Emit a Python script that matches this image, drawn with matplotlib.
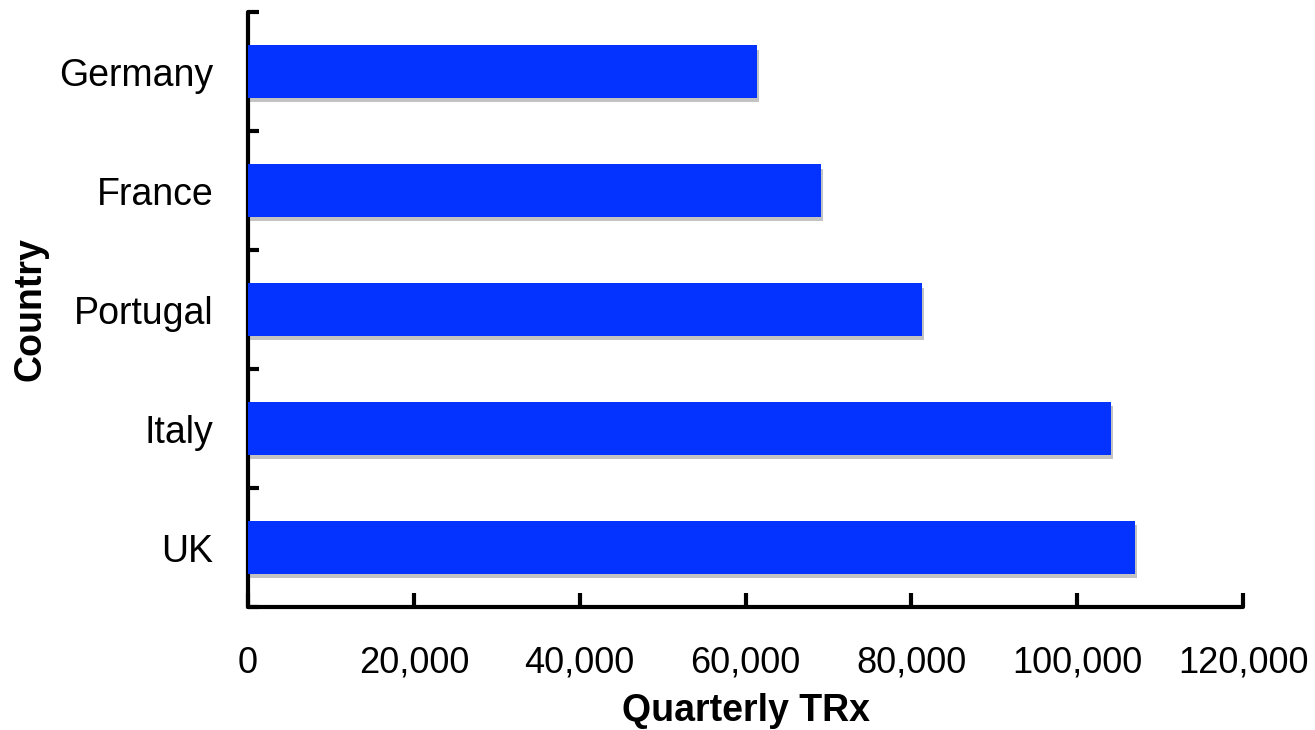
import matplotlib.pyplot as plt
import matplotlib.patheffects as pe
from matplotlib.ticker import FuncFormatter

countries = ["UK", "Italy", "Portugal", "France", "Germany"]
trx = [107000, 104100, 81300, 69100, 61400]
xticks = [0, 20000, 40000, 60000, 80000, 100000, 120000]

plt.rcParams['font.family'] = ['Liberation Sans', 'DejaVu Sans']

fig = plt.figure(figsize=(13.15, 7.3), dpi=100)
ax = fig.add_axes([0.1886, 0.1685, 0.7567, 0.815])

ypos = range(len(countries))
bars = ax.barh(ypos, trx, height=0.44, color='#0433ff', zorder=3)
for b in bars:
    b.set_path_effects([pe.SimplePatchShadow(offset=(1.5, -3), shadow_rgbFace='#888888', alpha=0.5),
                        pe.Normal()])

ax.set_xlim(0, 120000)
ax.set_ylim(-0.5, len(countries) - 0.5)

ax.set_xticks(xticks)
ax.xaxis.set_major_formatter(FuncFormatter(lambda v, p: f"{int(v):,}"))
ax.set_yticks(list(ypos))
ax.set_yticklabels(countries)
ax.set_yticks([i - 0.5 for i in range(len(countries) + 1)], minor=True)

ax.tick_params(axis='x', direction='in', length=10, width=3, labelsize=26, pad=28)
ax.tick_params(axis='y', which='major', length=0, labelsize=27, pad=25)
ax.tick_params(axis='y', which='minor', direction='in', length=8, width=3)

for s in ['top', 'right']:
    ax.spines[s].set_visible(False)
for s in ['left', 'bottom']:
    ax.spines[s].set_linewidth(3)
    ax.spines[s].set_capstyle('round')

ax.set_xlabel("Quarterly TRx", fontsize=27, fontweight='bold')
ax.xaxis.set_label_coords(0.5, -0.145)
ax.set_ylabel("Country", fontsize=27, fontweight='bold')
ax.yaxis.set_label_coords(-0.201, 0.5)

fig.savefig("out.png", dpi=100)
